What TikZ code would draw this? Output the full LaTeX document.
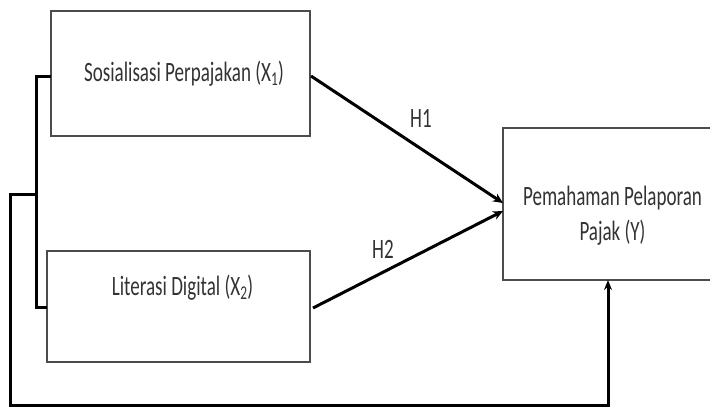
\documentclass[tikz,border=0pt]{standalone}
\usepackage{fontspec}
\usepackage{graphicx}
\setmainfont{Carlito}
\usetikzlibrary{arrows.meta}
\newcommand{\narrow}[1]{\scalebox{0.68}[1]{#1}}
\begin{document}
\begin{tikzpicture}[x=1pt,y=-1pt,
  box/.style={draw=black!70,line width=1.8pt,fill=white,inner sep=0pt},
  conn/.style={line width=3pt,black},
  arr/.style={conn,-{Stealth[length=10pt,width=9pt]}},
  lbl/.style={font=\fontsize{28}{35}\selectfont,text=black!80,inner sep=0pt,anchor=base}]
\useasboundingbox (0,0) rectangle (710,408);
% boxes
\node[box,minimum width=259pt,minimum height=125pt] (x1) at (180.5,73.5) {};
\node[lbl] (t1) at (184,81) {\narrow{Sosialisasi Perpajakan (X\textsubscript{1})}};
\node[box,minimum width=263pt,minimum height=111pt] (x2) at (178.5,306.5) {};
\node[lbl] (t2) at (182.5,295) {\narrow{Literasi Digital (X\textsubscript{2})}};
\node[box,minimum width=212pt,minimum height=152pt] (y) at (609,204) {};
\node[lbl] (ty1) at (612.5,205) {\narrow{Pemahaman Pelaporan}};
\node[lbl] (ty2) at (612.5,240) {\narrow{Pajak (Y)}};
% coordinates
\coordinate (a1) at (51,76);
\coordinate (a2) at (47,307);
\coordinate (j1) at (36,76);
\coordinate (j2) at (36,307);
\coordinate (jm) at (36,194);
\coordinate (l1) at (10,194);
\coordinate (l2) at (10,405);
\coordinate (l3) at (608,405);
\coordinate (yb) at (608,280);
\coordinate (s1) at (311,76);
\coordinate (s2) at (313,308);
\coordinate (e1) at (503,203);
\coordinate (e2) at (503,211);
% bracket
\draw[conn] (a1) -- (j1) -- (j2) -- (a2);
\draw[conn,-{Stealth[length=10pt,width=8pt]}] (jm) -- (l1) -- (l2) -- (l3) -- (yb);
% hypotheses
\draw[arr] (s1) -- (e1);
\draw[arr] (s2) -- (e2);
\node[lbl] (h1) at (421,127) {\narrow{H1}};
\node[lbl] (h2) at (383,258) {\narrow{H2}};
\end{tikzpicture}
\end{document}
